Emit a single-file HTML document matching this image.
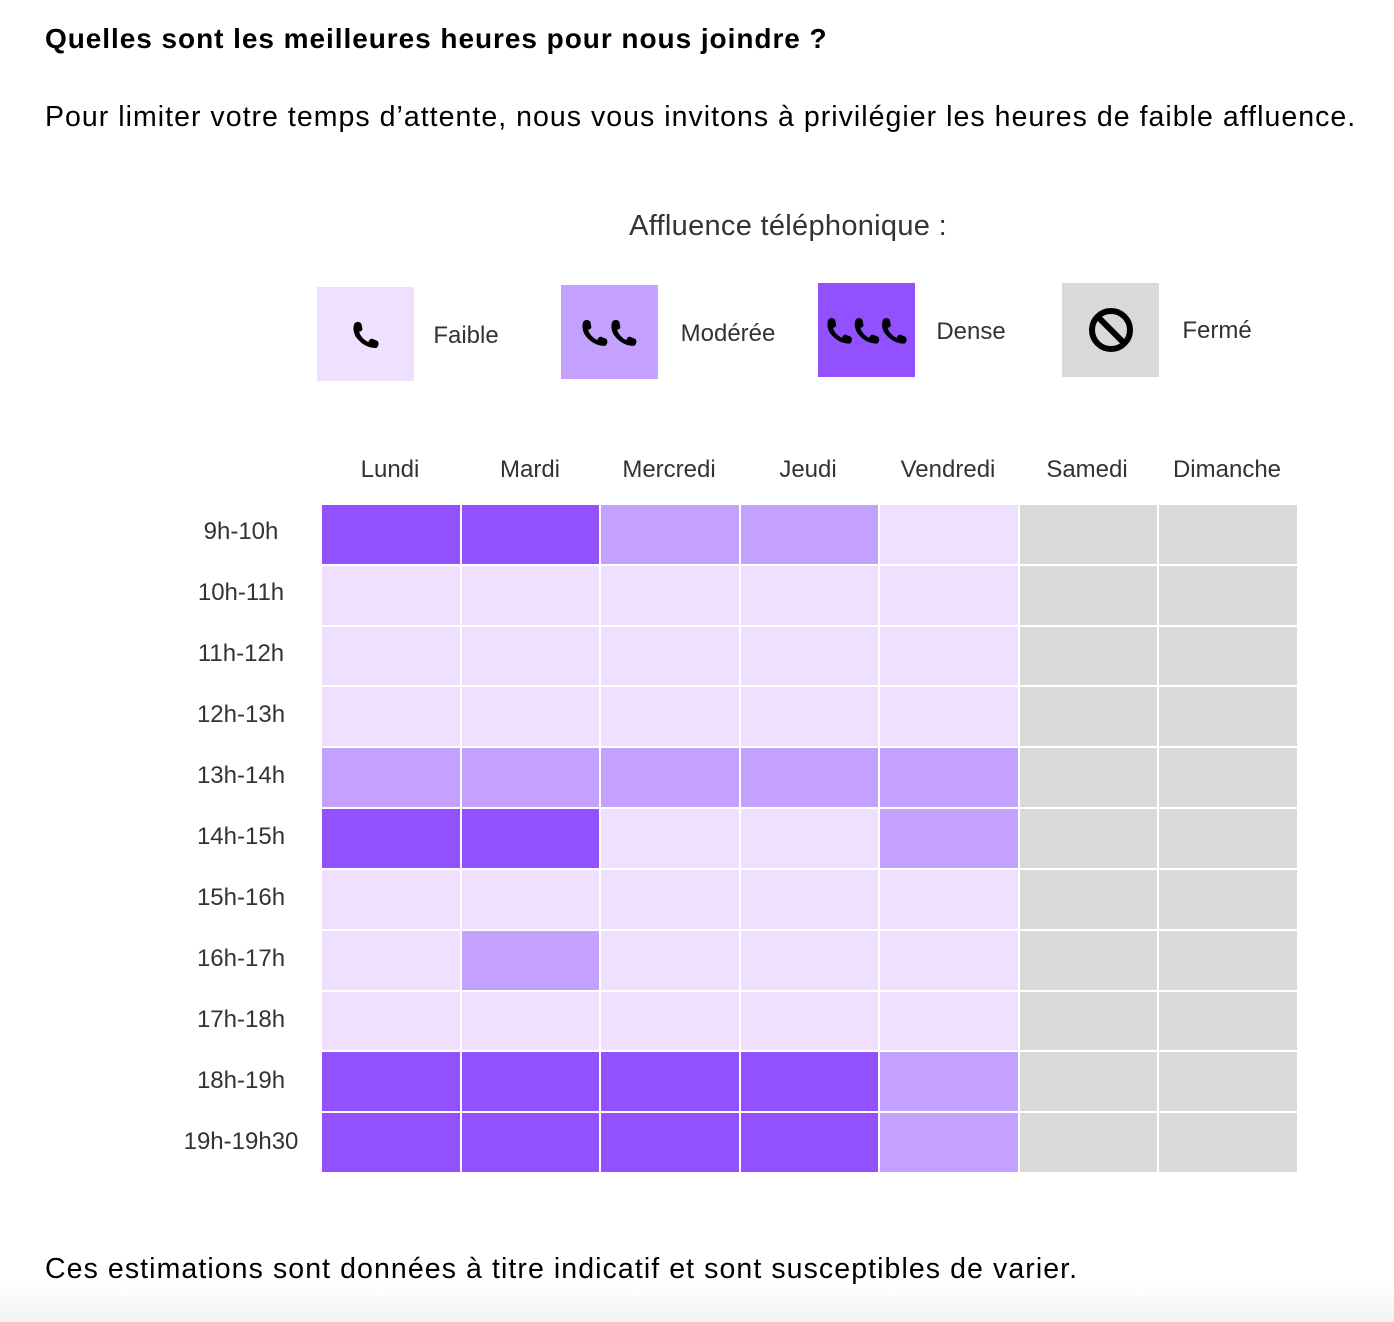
<!DOCTYPE html>
<html><head><meta charset="utf-8"><style>
body{margin:0;width:1394px;height:1322px;background:#fff;position:relative;overflow:hidden;font-family:"Liberation Sans",sans-serif;color:#000}
.t{position:absolute;white-space:nowrap}
.h{left:45px;top:23px;font-size:28px;font-weight:bold;letter-spacing:0.95px}
.p{left:45px;top:101px;font-size:28.5px;letter-spacing:1.03px}
.f{left:45px;top:1253px;font-size:28.5px;letter-spacing:1.08px}
.lab{position:absolute;font-size:24px;color:#333;white-space:nowrap;transform:translateX(-50%)}
.box{position:absolute;width:97px;height:94px;display:flex;align-items:center;justify-content:center}
.grid{position:absolute;left:322px;top:505px;width:975px;height:667px;display:grid;grid-template-columns:repeat(7,1fr);grid-template-rows:repeat(11,1fr);gap:2px}
.D{background:#9350ff}.M{background:#c4a1ff}.F{background:#f0e0ff}.C{background:#d9d9d9}
.shade{position:absolute;left:0;top:1285px;width:1394px;height:37px;background:linear-gradient(#fff,#f2f2f2)}
</style></head><body>
<div class="shade"></div>
<div class="t h">Quelles sont les meilleures heures pour nous joindre ?</div>
<div class="t p">Pour limiter votre temps d’attente, nous vous invitons à privilégier les heures de faible affluence.</div>
<div class="lab" style="left:788px;top:210px;font-size:29px;letter-spacing:0.3px">Affluence téléphonique :</div>

<svg width="0" height="0" style="position:absolute"><defs><path id="ph" d="M2 3 Q5 0 8 3 L9 8 Q8 10 6 10 Q8 16 14 19 Q15 16 17 16 L22 18 Q24 21 21 24 Q10 24 3 14 Q0 8 2 3 Z"/></defs></svg>

<div class="box F" style="left:317px;top:287px"><svg width="28" height="28" viewBox="0 0 24 24"><use href="#ph"/></svg></div>
<div class="lab" style="left:466px;top:322px">Faible</div>
<div class="box M" style="left:561px;top:285px"><svg width="58" height="28" viewBox="0 0 50 24"><use href="#ph"/><use href="#ph" x="25"/></svg></div>
<div class="lab" style="left:728px;top:320px">Modérée</div>
<div class="box D" style="left:818px;top:283px"><svg width="82" height="28" viewBox="0 0 72 24"><use href="#ph"/><use href="#ph" x="24"/><use href="#ph" x="48"/></svg></div>
<div class="lab" style="left:971px;top:318px">Dense</div>
<div class="box C" style="left:1062px;top:283px"><svg width="48" height="48" viewBox="0 0 48 48"><circle cx="24" cy="24" r="19" fill="none" stroke="#000" stroke-width="6"/><line x1="11" y1="11" x2="37" y2="37" stroke="#000" stroke-width="6"/></svg></div>
<div class="lab" style="left:1217px;top:317px">Fermé</div>

<div class="lab" style="left:390px;top:456px">Lundi</div>
<div class="lab" style="left:530px;top:456px">Mardi</div>
<div class="lab" style="left:669px;top:456px">Mercredi</div>
<div class="lab" style="left:808px;top:456px">Jeudi</div>
<div class="lab" style="left:948px;top:456px">Vendredi</div>
<div class="lab" style="left:1087px;top:456px">Samedi</div>
<div class="lab" style="left:1227px;top:456px">Dimanche</div>

<div class="lab" style="left:241px;top:518px">9h-10h</div>
<div class="lab" style="left:241px;top:579px">10h-11h</div>
<div class="lab" style="left:241px;top:640px">11h-12h</div>
<div class="lab" style="left:241px;top:701px">12h-13h</div>
<div class="lab" style="left:241px;top:762px">13h-14h</div>
<div class="lab" style="left:241px;top:823px">14h-15h</div>
<div class="lab" style="left:241px;top:884px">15h-16h</div>
<div class="lab" style="left:241px;top:945px">16h-17h</div>
<div class="lab" style="left:241px;top:1006px">17h-18h</div>
<div class="lab" style="left:241px;top:1067px">18h-19h</div>
<div class="lab" style="left:241px;top:1128px">19h-19h30</div>

<div class="grid">
<div class="D"></div><div class="D"></div><div class="M"></div><div class="M"></div><div class="F"></div><div class="C"></div><div class="C"></div>
<div class="F"></div><div class="F"></div><div class="F"></div><div class="F"></div><div class="F"></div><div class="C"></div><div class="C"></div>
<div class="F"></div><div class="F"></div><div class="F"></div><div class="F"></div><div class="F"></div><div class="C"></div><div class="C"></div>
<div class="F"></div><div class="F"></div><div class="F"></div><div class="F"></div><div class="F"></div><div class="C"></div><div class="C"></div>
<div class="M"></div><div class="M"></div><div class="M"></div><div class="M"></div><div class="M"></div><div class="C"></div><div class="C"></div>
<div class="D"></div><div class="D"></div><div class="F"></div><div class="F"></div><div class="M"></div><div class="C"></div><div class="C"></div>
<div class="F"></div><div class="F"></div><div class="F"></div><div class="F"></div><div class="F"></div><div class="C"></div><div class="C"></div>
<div class="F"></div><div class="M"></div><div class="F"></div><div class="F"></div><div class="F"></div><div class="C"></div><div class="C"></div>
<div class="F"></div><div class="F"></div><div class="F"></div><div class="F"></div><div class="F"></div><div class="C"></div><div class="C"></div>
<div class="D"></div><div class="D"></div><div class="D"></div><div class="D"></div><div class="M"></div><div class="C"></div><div class="C"></div>
<div class="D"></div><div class="D"></div><div class="D"></div><div class="D"></div><div class="M"></div><div class="C"></div><div class="C"></div>
</div>

<div class="t f">Ces estimations sont données à titre indicatif et sont susceptibles de varier.</div>
</body></html>
